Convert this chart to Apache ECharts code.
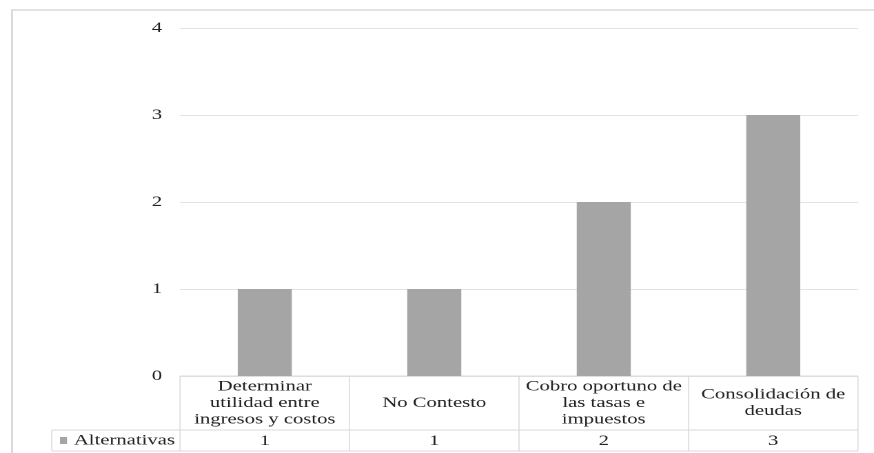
<!DOCTYPE html>
<html>
<head>
<meta charset="utf-8">
<script src="https://cdn.jsdelivr.net/npm/echarts@6/dist/echarts.min.js"></script>
<style>
  html, body { margin: 0; padding: 0; background: #fff; overflow: hidden; }
  /* The chart is laid out on a narrower canvas and widened to the window,
     which gives the broad, expanded serif lettering of the table. */
  #chart { width: 634px; height: 453px; transform: scaleX(1.3785); transform-origin: 0 0; }
</style>
</head>
<body>
<div id="chart"></div>
<script>
// Categories (table header cells) and the counts for each one
const categories = [
  'Determinar\nutilidad entre\ningresos y costos',
  'No Contesto',
  'Cobro oportuno de\nlas tasas e\nimpuestos',
  'Consolidación de\ndeudas'
];
const values = [1, 1, 2, 3];
const seriesName = 'Alternativas';
const yTickMin = 0;
const yTickMax = 4;
const yTickStep = 1;

const FONT = 'Times New Roman, Liberation Serif, serif';
const TEXT = '#222222';
const RULE = '#d9d9d9';

const chart = echarts.init(document.getElementById('chart'), null, { devicePixelRatio: 2 });

chart.setOption({
  animation: false,
  backgroundColor: '#ffffff',
  textStyle: { fontFamily: FONT },
  grid: { left: 130.6, right: 11.6, top: 28, bottom: 77, containLabel: false },
  legend: {
    data: [seriesName],
    left: 43.5,
    top: 433,
    padding: 0,
    icon: 'rect',
    itemWidth: 5.1,
    itemHeight: 7,
    itemGap: 2.2,
    textStyle: { fontFamily: FONT, fontSize: 15, color: TEXT }
  },
  xAxis: [
    {
      type: 'category',
      data: categories,
      position: 'bottom',
      axisLine: { show: false },
      axisTick: { show: false },
      axisLabel: {
        interval: 0,
        margin: 27,
        verticalAlign: 'middle',
        align: 'center',
        fontFamily: FONT,
        fontSize: 15,
        lineHeight: 16.5,
        color: TEXT
      }
    },
    {
      // value row of the data table
      type: 'category',
      data: values.map(v => String(v)),
      position: 'bottom',
      offset: 0,
      axisLine: { show: false },
      axisTick: { show: false },
      splitLine: { show: false },
      axisLabel: {
        interval: 0,
        margin: 65,
        verticalAlign: 'middle',
        fontFamily: FONT,
        fontSize: 15,
        color: TEXT
      }
    }
  ],
  yAxis: {
    type: 'value',
    min: yTickMin,
    max: yTickMax,
    interval: yTickStep,
    axisLine: { show: false },
    axisTick: { show: false },
    axisLabel: { margin: 13, fontFamily: FONT, fontSize: 15, color: TEXT },
    splitLine: { lineStyle: { color: '#e3e3e3', width: 1 } }
  },
  series: [{
    name: seriesName,
    type: 'bar',
    xAxisIndex: 0,
    data: values,
    barWidth: 39.2,
    itemStyle: { color: '#a5a5a5' }
  }]
});

// Data-table grid lines and the outer frame, placed from the axis scales
function drawTable() {
  const c0 = chart.convertToPixel({ xAxisIndex: 0 }, 0);
  const c1 = chart.convertToPixel({ xAxisIndex: 0 }, 1);
  const band = c1 - c0;
  const left = c0 - band / 2;
  const right = left + band * categories.length;
  const yTop = chart.convertToPixel({ yAxisIndex: 0 }, yTickMin);
  const headerBottom = yTop + 54;
  const rowBottom = yTop + 75;
  const legendLeft = 37.5;
  const els = [];
  const line = (x1, y1, x2, y2, w) => els.push({
    type: 'line', silent: true,
    shape: { x1, y1, x2, y2 },
    style: { stroke: RULE, lineWidth: w || 1 }
  });
  // horizontal rules
  line(left, yTop, right, yTop, 1);
  line(legendLeft, headerBottom, right, headerBottom, 1);
  line(legendLeft, rowBottom, right, rowBottom, 1);
  // vertical rules
  for (let i = 0; i <= categories.length; i++) {
    const x = left + band * i;
    line(x, yTop, x, rowBottom, 0.75);
  }
  line(legendLeft, headerBottom, legendLeft, rowBottom, 0.75);
  // chart frame
  els.push({
    type: 'polyline', silent: true,
    shape: { points: [[8.7, 460], [8.7, 10], [640, 10]] },
    style: { stroke: RULE, lineWidth: 1.4, fill: null }
  });
  chart.setOption({ graphic: { elements: els } });
}
drawTable();
</script>
</body>
</html>
